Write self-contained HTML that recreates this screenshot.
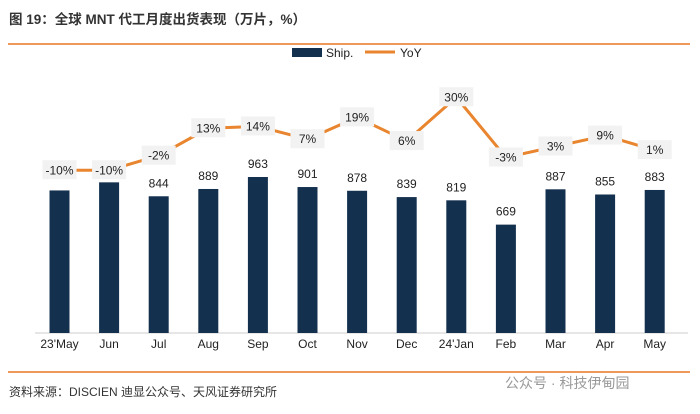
<!DOCTYPE html>
<html><head><meta charset="utf-8"><style>
body{margin:0;background:#fff;width:700px;height:409px;overflow:hidden;font-family:"Liberation Sans","Noto Sans CJK SC",sans-serif}
</style></head><body>
<svg width="700" height="409">
<text x="9" y="24" font-size="13.5" font-weight="bold" fill="#333" font-family="Liberation Sans, Noto Sans CJK SC, sans-serif">图 19：全球 MNT 代工月度出货表现（万片，%）</text>
<line x1="8" y1="44" x2="690" y2="44" stroke="#e87722" stroke-width="1.5"/>
<g>
<rect x="292" y="48" width="30" height="9" fill="#14304f"/>
<text x="326" y="57" font-size="12" fill="#222">Ship.</text>
<line x1="365" y1="52" x2="395" y2="52" stroke="#e8852e" stroke-width="3"/>
<text x="400" y="57" font-size="12" fill="#222">YoY</text>
</g>
<line x1="35" y1="333" x2="688" y2="333" stroke="#ccc" stroke-width="1"/>
<g id="plot"></g>
<line x1="8" y1="372" x2="690" y2="372" stroke="#e87722" stroke-width="1.5"/>
<text x="9" y="396" font-size="12" fill="#333">资料来源：DISCIEN 迪显公众号、天风证券研究所</text>
<text x="505" y="388" font-size="14" fill="#999">公众号 · 科技伊甸园</text>
</svg>
<script>
const categories=["23'May","Jun","Jul","Aug","Sep","Oct","Nov","Dec","24'Jan","Feb","Mar","Apr","May"];
const ship=[880,930,844,889,963,901,878,839,819,669,887,855,883];
const shipLabels=["","","844","889","963","901","878","839","819","669","887","855","883"];
const yoy=[-10,-10,-2,13,14,7,19,6,30,-3,3,9,1];
const NS="http://www.w3.org/2000/svg";
const g=document.getElementById('plot');
function xS(i){return 59.5+i*49.6;}
function yBar(v){return 333-v*0.162;}
function yLine(v){return 152-v*1.825;}
function mk(t,a){const e=document.createElementNS(NS,t);for(const k in a)e.setAttribute(k,a[k]);g.appendChild(e);return e;}
categories.forEach((c,i)=>{
 const r=mk('rect',{x:xS(i)-10,y:yBar(ship[i]),width:20,height:333-yBar(ship[i]),fill:'#14304f'});
 
 
 const t=mk('text',{x:xS(i),y:348,'font-size':12,'text-anchor':'middle',fill:'#222'});t.textContent=c;
 
 
 if(shipLabels[i]){const l=mk('text',{x:xS(i),y:yBar(ship[i])-9,'font-size':12,'text-anchor':'middle',fill:'#222'});l.textContent=shipLabels[i];
 
 }
});
const pts=yoy.map((v,i)=>xS(i)+','+yLine(v)).join(' ');
const pl=mk('polyline',{points:pts,fill:'none',stroke:'#e8852e','stroke-width':3,'stroke-linejoin':'round'});


yoy.forEach((v,i)=>{
 const cy=yLine(v);
 const b=mk('rect',{x:xS(i)-17,y:cy-10,width:34,height:19,fill:'#f2f2f2'});
 
 
 const t=mk('text',{x:xS(i),y:cy+4,'font-size':12,'text-anchor':'middle',fill:'#222'});t.textContent=v+'%';
 
 
});
</script>
</body></html>
